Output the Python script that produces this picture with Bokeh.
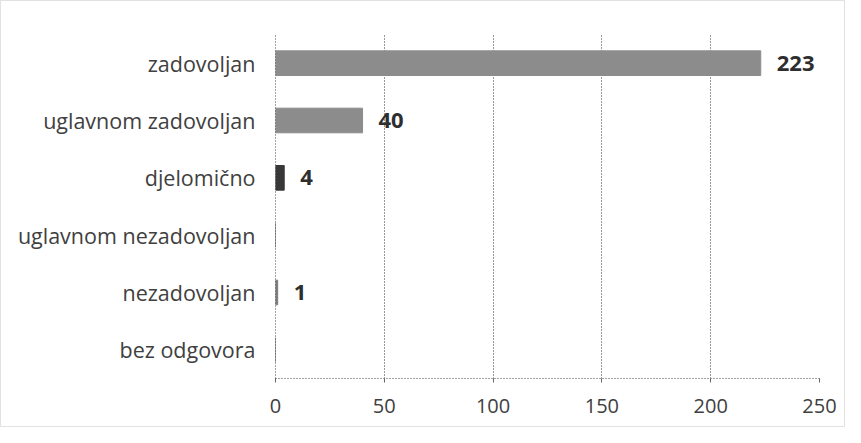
from bokeh.plotting import figure
from bokeh.models import ColumnDataSource, FactorRange, Range1d, FixedTicker
from bokeh.core.properties import value
from bokeh.embed import file_html
from bokeh.resources import INLINE

categories = ["zadovoljan", "uglavnom zadovoljan", "djelomično",
              "uglavnom nezadovoljan", "nezadovoljan", "bez odgovora"]
counts = [223, 40, 4, 0, 1, 0]
bar_colors = ["#8c8c8c", "#8c8c8c", "#383838", "#8c8c8c", "#7a7a7a", "#8c8c8c"]
x_ticks = [0, 50, 100, 150, 200, 250]

labels = [str(c) if c > 0 else "" for c in counts]
src = ColumnDataSource(dict(cat=categories, val=counts, col=bar_colors, lab=labels))

p = figure(width=845, height=427, output_backend="svg", toolbar_location=None,
           y_range=FactorRange(factors=list(reversed(categories)), range_padding=0.0),
           x_range=Range1d(0, 250),
           min_border_left=274, min_border_right=27, min_border_top=33, min_border_bottom=50)

p.hbar(y="cat", right="val", left=0, height=0.43, color="col", source=src)
p.text(x="val", y="cat", text="lab", source=src, x_offset=16, text_baseline="middle",
       text_font=value("Open Sans"), text_font_style="bold", text_font_size="22px",
       text_color="#2e2e2e")

p.xaxis.ticker = FixedTicker(ticks=x_ticks)
p.xgrid.ticker = FixedTicker(ticks=x_ticks)
p.xgrid.grid_line_color = "#333333"
p.xgrid.grid_line_dash = "1 2"
p.xgrid.grid_line_width = 1
p.ygrid.grid_line_color = None

for ax in (p.xaxis, p.yaxis):
    ax.axis_line_color = "#444444"
    ax.axis_line_dash = "1 2"
    ax.major_label_text_font = "Open Sans"
    ax.major_label_text_font_size = "20px"
    ax.major_label_text_color = "#404040"
    ax.minor_tick_line_color = None

p.yaxis.major_label_text_font_size = "21.5px"
p.xaxis.major_tick_line_color = "#666666"
p.xaxis.major_tick_in = 0
p.xaxis.major_tick_out = 4
p.xaxis.major_label_standoff = 16
p.yaxis.major_tick_line_color = None
p.yaxis.major_label_standoff = 14

p.outline_line_color = None
p.background_fill_color = "white"
p.border_fill_color = "white"
p.styles = {"border": "1px solid #e2e2e2"}

open("out.html", "w").write(file_html(p, INLINE))
